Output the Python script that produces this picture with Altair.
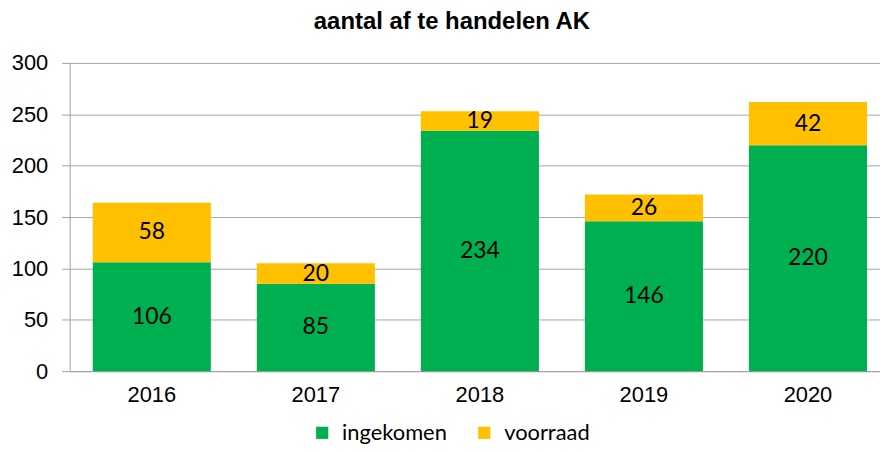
import altair as alt
import pandas as pd

years = ["2016", "2017", "2018", "2019", "2020"]
ingekomen = [106, 85, 234, 146, 220]
voorraad = [58, 20, 19, 26, 42]
series = ["ingekomen", "voorraad"]
colors = ["#00B050", "#FFC000"]

rows = []
for i, y in enumerate(years):
    rows.append({"year": y, "serie": "ingekomen", "order": 0, "value": ingekomen[i]})
    rows.append({"year": y, "serie": "voorraad", "order": 1, "value": voorraad[i]})
df = pd.DataFrame(rows)

base = alt.Chart(df).transform_stack(
    stack="value", groupby=["year"], as_=["y0", "y1"],
    sort=[alt.SortField("order", order="ascending")]
).transform_calculate(mid="(datum.y0 + datum.y1) / 2")

x = alt.X("year:N", title=None, sort=years,
          scale=alt.Scale(paddingInner=0.28, paddingOuter=0.11, align=0.64),
          axis=alt.Axis(labelAngle=0, ticks=False, labelFont="Liberation Sans",
                        labelFontSize=22, labelColor="#000", labelPadding=14,
                        domainColor="#a0a0a0", grid=False))

bars = base.mark_bar().encode(
    x=x,
    y=alt.Y("y0:Q", title=None, scale=alt.Scale(domain=[0, 300]),
            axis=alt.Axis(values=[0, 50, 100, 150, 200, 250, 300], labelFont="Liberation Sans",
                          labelFontSize=22, labelColor="#000", labelPadding=14,
                          tickSize=8, tickColor="#a0a0a0", domainColor="#a0a0a0",
                          gridColor="#a6a6a6")),
    y2="y1:Q",
    color=alt.Color("serie:N", scale=alt.Scale(domain=series, range=colors),
                    legend=alt.Legend(title=None, orient="none", legendX=243, legendY=361,
                                      direction="horizontal", symbolType="square",
                                      symbolSize=150, symbolStrokeWidth=0, symbolOpacity=1,
                                      labelFont="Lato", labelFontSize=22, labelColor="#000",
                                      columnPadding=26, labelOffset=9)),
)

labels = base.mark_text(font="Lato", fontSize=23, color="#000", baseline="middle").encode(
    x=alt.X("year:N", sort=years),
    y="mid:Q",
    text="value:Q",
)

chart = alt.layer(bars, labels).properties(
    width=815, height=310,
    autosize=alt.AutoSizeParams(type="none"),
    padding={"left": 62, "top": 54, "right": 0, "bottom": 72},
    title=alt.TitleParams("aantal af te handelen AK", font="Liberation Sans", fontSize=24,
                          fontWeight="bold", color="#000", offset=18, dx=-23),
).configure_view(stroke=None)

chart.save("out.html", embed_options={"renderer": "svg", "actions": False})
